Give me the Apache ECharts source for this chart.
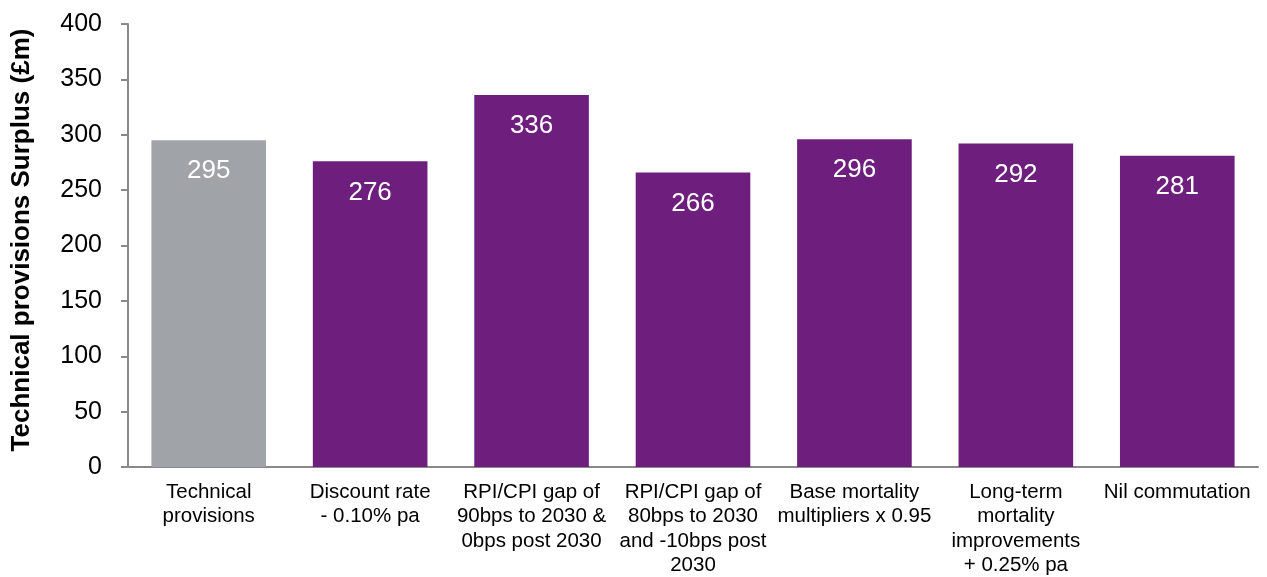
<!DOCTYPE html>
<html><head><meta charset="utf-8">
<script src="https://cdn.jsdelivr.net/npm/echarts@6/dist/echarts.min.js"></script>
<style>html,body{margin:0;padding:0;background:#fff}#c{width:1267px;height:577px}</style>
</head><body><div id="c"></div>
<script>
var categories = ["Technical\nprovisions","Discount rate\n- 0.10% pa","RPI/CPI gap of\n90bps to 2030 &\n0bps post 2030","RPI/CPI gap of\n80bps to 2030\nand -10bps post\n2030","Base mortality\nmultipliers x 0.95","Long-term\nmortality\nimprovements\n+ 0.25% pa","Nil commutation"];
var values = [295, 276, 336, 266, 296, 292, 281];
var yTicks = [0, 50, 100, 150, 200, 250, 300, 350, 400];
var barColors = ["#A0A3A7","#6E1F7E","#6E1F7E","#6E1F7E","#6E1F7E","#6E1F7E","#6E1F7E"];
var font = "Liberation Sans, Arial, sans-serif";
var chart = echarts.init(document.getElementById('c'));
chart.setOption({
  animation:false,
  grid:{left:128,right:9,top:24,bottom:110,containLabel:false,outerBoundsMode:'none'},
  xAxis:{type:'category',data:categories,
    axisLine:{lineStyle:{color:'#898989',width:2}},
    axisTick:{show:false},
    axisLabel:{interval:0,color:'#000',fontFamily:font,fontSize:20.5,lineHeight:24.5,margin:13}},
  yAxis:{type:'value',min:yTicks[0],max:yTicks[yTicks.length-1],interval:50,
    name:'Technical provisions Surplus (£m)',nameLocation:'middle',nameGap:93,
    nameTextStyle:{fontFamily:font,fontSize:26,fontWeight:'bold',color:'#000',padding:[0,0,0,11]},
    axisLine:{show:true,lineStyle:{color:'#898989',width:2}},
    axisTick:{show:true,length:7,lineStyle:{color:'#898989',width:2}},
    splitLine:{show:false},
    axisLabel:{color:'#000',fontFamily:font,fontSize:25,margin:26}},
  series:[{type:'bar',barCategoryGap:'29%',
    data:values.map(function(v,i){return {value:v,itemStyle:{color:barColors[i]}};}),
    label:{show:true,position:'insideTop',distance:18,color:'#fff',fontFamily:font,fontSize:26}}]
});
</script></body></html>
